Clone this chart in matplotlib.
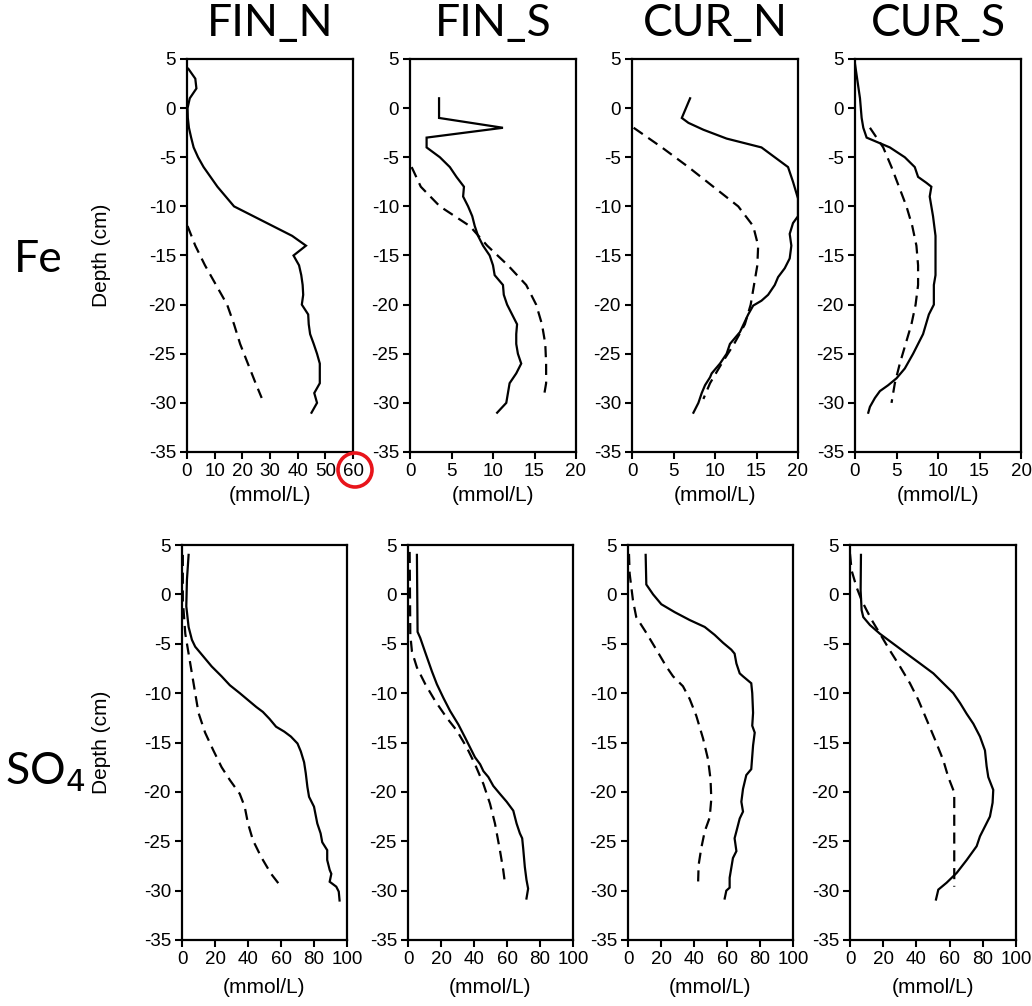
"""Porewater Fe and SO4 depth profiles for the four cores."""

import matplotlib
import matplotlib.pyplot as plt
import matplotlib.patches

W, H = 1032, 1006

columns = ["FIN_N", "FIN_S", "CUR_N", "CUR_S"]
rows = ["Fe", "SO$_4$"]
fe_xmax = [60, 20, 20, 20]
so4_xmax = [100, 100, 100, 100]
depth_ticks = [5, 0, -5, -10, -15, -20, -25, -30, -35]

# --- Fe, solid profiles ---
fe_fin_n_depth = [4, 3, 2, 1, 0, -1, -2, -3, -4, -5, -6, -7, -8, -9, -10, -11, -12, -13, -14,
                  -15, -16, -17, -18, -19, -20, -21, -22, -23, -24, -25, -26, -27, -28, -29, -30, -31]
fe_fin_n = [0.5, 3, 3.4, 1, 0.2, 0.3, 0.7, 1.5, 2.4, 4, 6, 8.5, 11, 14, 17, 24, 31, 38, 43,
            38.5, 40.5, 41.3, 41.8, 42, 41.5, 43.8, 44, 44.5, 45.8, 47, 48, 48, 48, 46, 47, 45]
fe_fin_s_depth = [1, 0, -1, -2, -3, -4, -5, -6, -7, -8, -9, -10, -11, -12, -13, -14, -15, -16,
                  -17, -18, -19, -20, -21, -22, -23, -24, -25, -26, -27, -28, -29, -30, -31]
fe_fin_s = [3.5, 3.5, 3.5, 11.2, 2, 2, 3.6, 4.8, 5.6, 6.5, 6.4, 7, 7.5, 7.8, 8.2, 8.8, 9.6, 10,
            10.2, 11.2, 11.3, 11.7, 12.3, 12.9, 12.8, 12.8, 13, 13.4, 12.8, 12, 11.8, 11.6, 10.5]
fe_cur_n_depth = [1, -1, -1.5, -2.2, -3.1, -4, -5, -6, -7.5, -9.2, -11, -11.7, -12.8, -14,
                  -15.3, -16.3, -17.2, -18, -19, -19.6, -20.1, -21, -22.8, -24, -25, -26, -27,
                  -27.4, -28.2, -29, -30, -31]
fe_cur_n = [7, 6, 6.8, 8.6, 11.4, 15.6, 17.2, 18.8, 19.4, 20, 20, 19.4, 19, 19.2,
            19, 18.4, 17.6, 17.2, 16.4, 15.6, 14.6, 14, 13, 11.8, 11.4, 10.6, 9.6,
            9.4, 8.8, 8.4, 8, 7.4]
fe_cur_s_depth = [4.5, 1, -1, -2, -3, -4, -5, -6, -7, -7.6, -8, -9, -11, -13, -15, -17, -18,
                  -20, -21, -23, -24, -25, -26.5, -27.5, -28.2, -28.8, -29.5, -30.4, -31]
fe_cur_s = [0, 0.6, 0.8, 1, 1.4, 4.2, 6, 7.2, 7.6, 8.6, 9.2, 9, 9.4, 9.7, 9.7, 9.7, 9.5,
            9.5, 8.9, 8.2, 7.6, 7, 6, 5, 4, 3, 2.4, 1.8, 1.6]

# --- Fe, dashed profiles ---
fe_fin_n_d_depth = [-12, -14, -16, -18, -20, -22, -24, -26, -28, -29.5]
fe_fin_n_d = [0.2, 3, 6.5, 10.5, 14.5, 17, 19.2, 22, 24.8, 27]
fe_fin_s_d_depth = [-6, -8, -10, -12, -14, -16, -18, -20, -22, -24, -26, -28, -29.5]
fe_fin_s_d = [0.2, 1.3, 3.6, 7.2, 9.3, 11.8, 14, 15.2, 15.9, 16.3, 16.4, 16.4, 16.1]
fe_cur_n_d_depth = [-2, -4, -6, -8, -10, -12, -14, -16, -18, -20, -22, -24, -26, -28, -29.6]
fe_cur_n_d = [0.2, 3.6, 6.8, 9.8, 12.8, 14.6, 15.2, 15.1, 14.7, 14.3, 13.6, 12.3, 10.8, 9.4, 8.6]
fe_cur_s_d_depth = [-2, -4, -6, -8, -10, -12, -14, -16, -18, -20, -22, -24, -26, -28, -30]
fe_cur_s_d = [1.8, 3.4, 4.4, 5.3, 6.2, 6.9, 7.4, 7.6, 7.6, 7.3, 6.8, 6.1, 5.4, 4.8, 4.4]

# --- SO4, solid profiles ---
so4_fin_n_depth = [4, 1.5, -1.2, -3.3, -4.6, -5.3, -6.3, -7.3, -8.3, -9.2, -10, -10.7, -11.4,
                   -11.9, -12.6, -13.4, -13.9, -14.4, -15.1, -15.9, -17, -18.1, -19.5, -20.5,
                   -21.5, -23.2, -24.2, -25.1, -25.9, -26.9, -27.9, -28.3, -29.1, -29.6, -30.1, -31]
so4_fin_n = [4, 3, 2.6, 4, 6, 8, 13, 18, 24, 29, 35, 40, 45,
             49, 53, 57, 62, 66, 70, 72, 74, 75, 76, 77,
             80, 82, 84, 85, 88, 88, 89.5, 90.5, 89.5, 93.5, 95, 95.5]
so4_fin_s_depth = [4, -3.8, -4.4, -5.9, -7.8, -9.1, -10.5, -11.8, -13.2, -14.5, -15.5, -16.5,
                   -17.2, -17.9, -18.5, -19.4, -20.2, -21, -21.9, -23.2, -24.2, -24.7, -25.7,
                   -27.6, -28.9, -29.8, -30.8]
so4_fin_s = [5.4, 5.8, 7.4, 10.5, 14.5, 17.5, 21.5, 25.5, 30.6, 34.6, 37.6, 40.6,
             43.7, 45.7, 48.7, 51.7, 55.7, 59.8, 63.8, 65.8, 67.8, 69.2, 69.8,
             70.8, 71.8, 72.8, 71.8]
so4_cur_n_depth = [4, 1, 0, -1, -1.8, -2.6, -3.3, -4.1, -4.9, -5.6, -6, -7, -8, -8.3, -9, -10,
                   -12, -13.3, -14, -15.3, -17.7, -18.3, -19.7, -21, -22, -22.7, -24, -24.7,
                   -26, -26.7, -27.7, -28.7, -29.7, -30, -30.8]
so4_cur_n = [10.7, 11.1, 15.2, 20.2, 28.3, 37.4, 46.5, 52.5, 57.6, 62.6, 64.6, 65.7, 67.7,
             69.7, 74.7, 75.3, 75.8, 75.3, 76.8, 75.8, 74.7, 71.7, 69.7, 68.7, 69.7, 67.7,
             65.7, 64.6, 65.7, 63.6, 62.6, 61.6, 61.6, 59.6, 58.6]
so4_cur_s_depth = [4, 0.4, -1.6, -2.3, -3.1, -4, -5, -6, -7, -8, -9, -10, -11, -12.1, -13.1,
                   -14.4, -15.8, -17.4, -18.5, -19.8, -21.1, -22.5, -23.5, -24.5, -25.5, -26.9,
                   -28.2, -29.2, -29.9, -30.9]
so4_cur_s = [6.6, 6.4, 7, 8, 12, 18.1, 26.1, 34.1, 42.2, 50.2, 56.2, 62.2, 66.3, 70.3, 74.3,
             78.3, 81.3, 82.3, 83.3, 86.3, 85.9, 84.3, 81.3, 78.3, 76.3, 70.3,
             64.3, 58.2, 53.2, 51.8]

# --- SO4, dashed profiles ---
so4_fin_n_d_depth = [4, -0.6, -4, -6, -8, -10, -12, -14, -15.8, -17.5, -18.8, -20.2, -21.5,
                     -23.2, -24.9, -26.6, -28.3, -29.6]
so4_fin_n_d = [0.5, 0.5, 2, 4, 6, 8, 10, 14, 19, 24, 29, 35, 38, 40, 43, 48, 54, 60]
so4_fin_s_d_depth = [4.3, -4.1, -5.8, -7.4, -9.1, -10.8, -12.5, -13.8, -15.5, -17.2, -19.2,
                     -21.2, -23.2, -25.9, -27.9, -29.3]
so4_fin_s_d = [1, 1.4, 2.4, 5.4, 10.5, 16.5, 23.5, 29.6, 35.6, 40.6, 45.7, 49.7, 52.7, 55.7,
               57.7, 58.8]
so4_cur_n_d_depth = [4.1, 2.1, -0.6, -2.3, -3.9, -5.6, -7.3, -8.3, -9.3, -10.6, -12.3, -14.6,
                     -16.7, -18.7, -20.7, -22.6, -24, -25.7, -27.4, -29.7]
so4_cur_n_d = [0.6, 1, 3, 5, 11.1, 17.2, 23.2, 27.3, 33.3, 37.4, 41.4, 45.5, 48.5, 50, 50.5,
               49.5, 46.5, 44.4, 42.8, 42.4]
so4_cur_s_d_depth = [4.1, 2.4, 0.7, -0.6, -1.6, -2.6, -4, -5.7, -7.3, -9, -10.7, -12.7, -14.7,
                     -16.8, -18.5, -19.8, -20.1, -29.6]
so4_cur_s_d = [0, 1, 4, 7, 10, 13.1, 18.1, 24.1, 30.1, 36.1, 41.2, 46.2, 51.2, 56.2, 59.2,
               62.2, 62.8, 62.8]

fe_solid = [(fe_fin_n, fe_fin_n_depth), (fe_fin_s, fe_fin_s_depth),
            (fe_cur_n, fe_cur_n_depth), (fe_cur_s, fe_cur_s_depth)]
fe_dashed = [(fe_fin_n_d, fe_fin_n_d_depth), (fe_fin_s_d, fe_fin_s_d_depth),
             (fe_cur_n_d, fe_cur_n_d_depth), (fe_cur_s_d, fe_cur_s_d_depth)]
so4_solid = [(so4_fin_n, so4_fin_n_depth), (so4_fin_s, so4_fin_s_depth),
             (so4_cur_n, so4_cur_n_depth), (so4_cur_s, so4_cur_s_depth)]
so4_dashed = [(so4_fin_n_d, so4_fin_n_d_depth), (so4_fin_s_d, so4_fin_s_d_depth),
              (so4_cur_n_d, so4_cur_n_d_depth), (so4_cur_s_d, so4_cur_s_d_depth)]

# axes boxes in pixels: (left, top, right, bottom)
fe_boxes = [(187, 59, 353, 452), (410, 59, 576, 452), (632, 59, 798, 452), (855, 59, 1021, 452)]
so4_boxes = [(182, 545, 347, 940), (408, 545, 573, 940), (628, 545, 793, 940), (850, 545, 1016, 940)]

plt.rcParams["font.family"] = ["Liberation Sans", "DejaVu Sans"]
plt.rcParams["axes.unicode_minus"] = False
TITLE_FONT = ["Lato", "DejaVu Sans"]


def add_panel(fig, box, xmax, solid, dashed, first, xlabel_pad):
    left, top, right, bottom = box
    ax = fig.add_axes([left / W, 1 - bottom / H, (right - left) / W, (bottom - top) / H])
    ax.plot(*solid, color="black", lw=1.6, solid_joinstyle="miter")
    ax.plot(*dashed, color="black", lw=1.6, linestyle=(0, (5, 3)))
    ax.set_xlim(0, xmax)
    ax.set_ylim(-35, 5)
    ax.set_yticks(depth_ticks)
    ax.set_xticks(range(0, xmax + 1, 10 if xmax == 60 else (5 if xmax == 20 else 20)))
    for s in ax.spines.values():
        s.set_linewidth(1.6)
    ax.tick_params(direction="out", length=5, width=1.5, labelsize=13.5, pad=3, colors="black")
    ax.set_xlabel("(mmol/L)", fontsize=15, labelpad=xlabel_pad)
    if first:
        ax.set_ylabel("Depth (cm)", fontsize=15)
        ax.yaxis.set_label_coords((111 - left) / (right - left), 0.5)
    return ax


fig = plt.figure(figsize=(W / 100, H / 100), dpi=100)

for i in range(4):
    add_panel(fig, fe_boxes[i], fe_xmax[i], fe_solid[i], fe_dashed[i], i == 0, 4)
    add_panel(fig, so4_boxes[i], so4_xmax[i], so4_solid[i], so4_dashed[i], i == 0, 7)
    left, _, right, _ = fe_boxes[i]
    fig.text((left + right) / 2 / W, 1 - 24 / H, columns[i], family=TITLE_FONT,
             fontsize=32, ha="center", va="center")

fig.text(38 / W, 1 - 260 / H, rows[0], family=TITLE_FONT, fontsize=32, ha="center", va="center")
fig.text(45 / W, 1 - 772 / H, rows[1], family=TITLE_FONT, fontsize=32, ha="center", va="center")

# highlight the 60 on the first Fe axis
fig.add_artist(matplotlib.patches.Ellipse((355 / W, 1 - 470 / H), 34 / W, 34 / H,
                                          transform=fig.transFigure, fill=False,
                                          edgecolor="#e8141b", lw=2.6))

fig.savefig("out.png", dpi=100)
